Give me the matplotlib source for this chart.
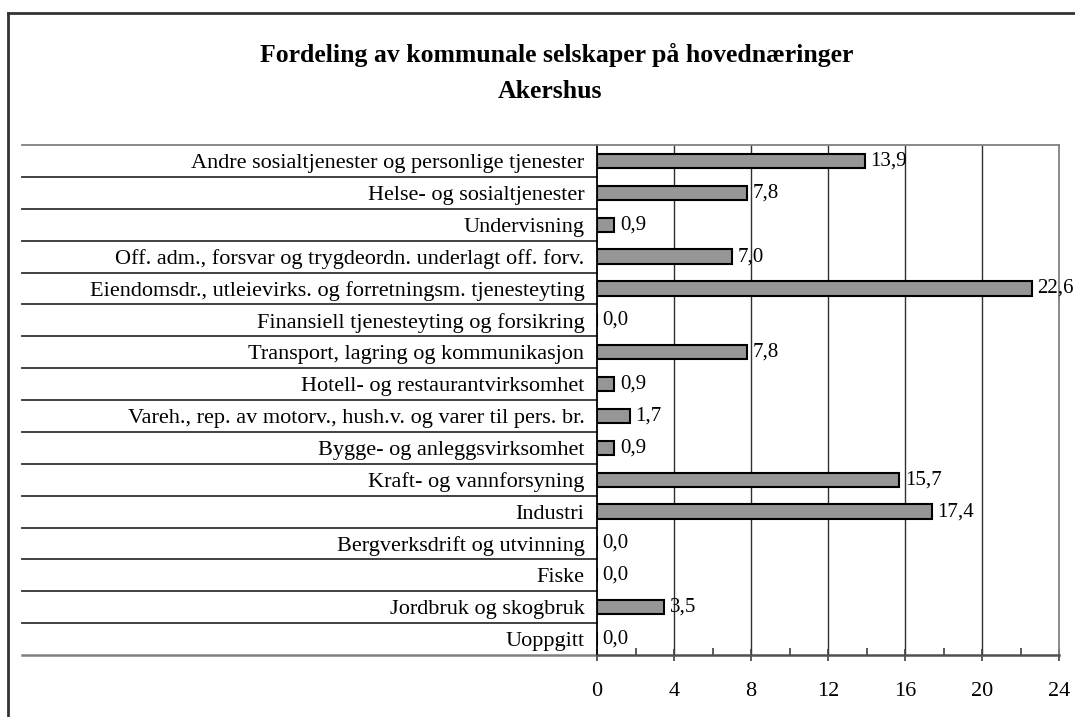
import matplotlib
matplotlib.use("Agg")
import matplotlib.pyplot as plt
from matplotlib.lines import Line2D
from matplotlib.ticker import MultipleLocator
from matplotlib.transforms import blended_transform_factory

plt.rcParams['font.family'] = ['Liberation Serif', 'DejaVu Serif']

categories = [
    "Andre sosialtjenester og personlige tjenester",
    "Helse- og sosialtjenester",
    "Undervisning",
    "Off. adm., forsvar og trygdeordn. underlagt off. forv.",
    "Eiendomsdr., utleievirks. og forretningsm. tjenesteyting",
    "Finansiell tjenesteyting og forsikring",
    "Transport, lagring og kommunikasjon",
    "Hotell- og restaurantvirksomhet",
    "Vareh., rep. av motorv., hush.v. og varer til pers. br.",
    "Bygge- og anleggsvirksomhet",
    "Kraft- og vannforsyning",
    "Industri",
    "Bergverksdrift og utvinning",
    "Fiske",
    "Jordbruk og skogbruk",
    "Uoppgitt",
]
values = [13.9, 7.8, 0.9, 7.0, 22.6, 0.0, 7.8, 0.9, 1.7, 0.9, 15.7, 17.4, 0.0, 0.0, 3.5, 0.0]
x_ticks = [0, 4, 8, 12, 16, 20, 24]

W, H = 1075, 717
fig = plt.figure(figsize=(W / 100, H / 100), dpi=100)
ax = fig.add_axes([597 / W, 1 - 655 / H, (1059 - 597) / W, (655 - 145) / H])

n = len(categories)
ypos = list(range(n))
ax.barh(ypos, values, height=0.45, color='#969696', edgecolor='black', linewidth=1.5, zorder=3)

ax.set_xlim(0, 24)
ax.set_ylim(n - 0.5, -0.5)
ax.set_xticks(x_ticks)
ax.set_xticklabels([str(t) for t in x_ticks], fontsize=16)
ax.xaxis.set_minor_locator(MultipleLocator(2))
ax.tick_params(axis='x', which='major', direction='inout', length=9, width=1.2, color='#404040', pad=15)
ax.tick_params(axis='x', which='minor', direction='in', length=5, width=1.2, color='#404040')
ax.set_yticks(ypos)
ax.set_yticklabels(categories, fontsize=16)
ax.tick_params(axis='y', length=0, pad=9)

for x in x_ticks[1:-1]:
    ax.axvline(x, color='#303030', linewidth=1.0, zorder=1)

ax.spines['top'].set_color('#808080')
ax.spines['right'].set_color('#808080')
ax.spines['left'].set_color('black')
ax.spines['bottom'].set_color('#505050')
for s in ax.spines.values():
    s.set_linewidth(1.3)
ax.spines['bottom'].set_linewidth(1.8)

# separator lines across the label area
trans = blended_transform_factory(ax.transAxes, ax.transData)
x_left = (22 - 597) / (1059 - 597)
for k in range(n + 1):
    col = '#808080' if k in (0, n) else '#333333'
    lw = 1.8 if k == n else 1.3
    ax.plot([x_left, 0], [k - 0.5, k - 0.5], color=col, linewidth=lw,
            transform=trans, clip_on=False)

for y, v in zip(ypos, values):
    ax.annotate(f"{v:.1f}".replace('.', ','), xy=(v, y), xytext=(4, 0),
                textcoords='offset points', va='center', ha='left', fontsize=15, zorder=4)

fig.text(557 / W, 1 - 55 / H, "Fordeling av kommunale selskaper på hovednæringer",
         ha='center', va='center', fontsize=18.5, fontweight='bold')
fig.text(550 / W, 1 - 92 / H, "Akershus", ha='center', va='center', fontsize=18.5, fontweight='bold')

# outer chart border
fig.add_artist(Line2D([8 / W, 1], [1 - 13 / H, 1 - 13 / H], color='#333333', linewidth=2))
fig.add_artist(Line2D([8 / W, 8 / W], [0, 1 - 13 / H], color='#333333', linewidth=2))

fig.savefig('out.png', dpi=100)
